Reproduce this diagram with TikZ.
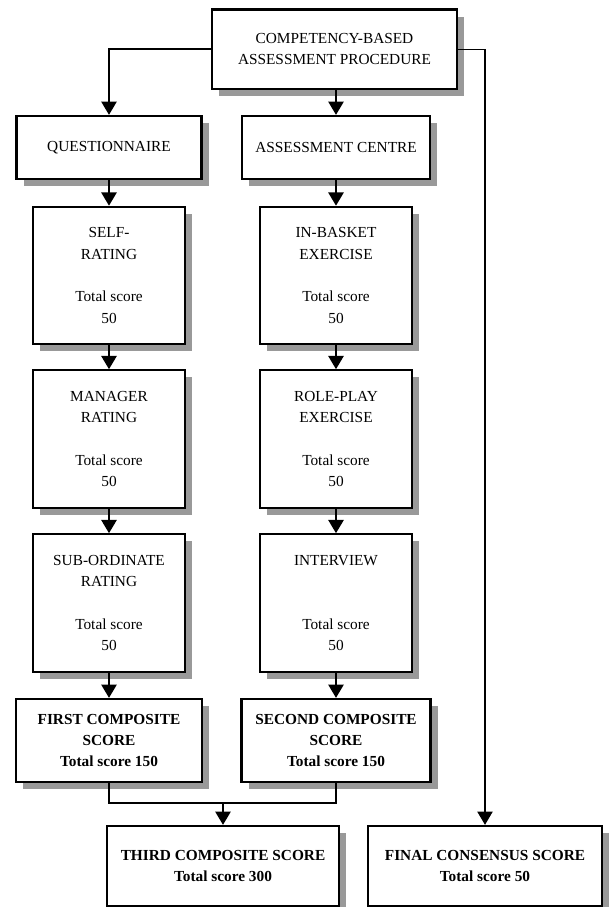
\documentclass[tikz,border=0pt]{standalone}
\usepackage{fontspec}
\setmainfont{Liberation Serif}
\usetikzlibrary{arrows.meta,shadows}

\begin{document}
\begin{tikzpicture}[x=0.75pt,y=-0.75pt,
		box/.style={draw, line width=1.7pt, fill=white, align=center, inner sep=0pt,
			drop shadow={shadow xshift=5.25pt, shadow yshift=-5.25pt, fill=black!40, opacity=1},
			font=\fontsize{11.5}{16}\selectfont},
		rating/.style={box, minimum width=114pt, minimum height=103pt},
		composite/.style={box, font=\fontsize{11.5}{16}\selectfont\bfseries},
		link/.style={line width=1.4pt},
		arrow/.style={link, -{Triangle[width=11.5pt,length=10pt]}}]
	\useasboundingbox (0,0) rectangle (611,907);

	% PROCEDURE
	\node[box, minimum width=183.75pt, minimum height=59.6pt] (proc) at (334.5,49.25) {COMPETENCY-BASED\\ASSESSMENT PROCEDURE};
	\node[box, minimum width=138.75pt, minimum height=47.25pt] (quest) at (109,147.5) {QUESTIONNAIRE};
	\node[box, minimum width=141pt, minimum height=47.25pt] (centre) at (336,147.5) {ASSESSMENT CENTRE};

	% QUESTIONNAIRE RATINGS
	\node[rating] (self) at (109,275.5) {SELF-\\RATING\\[16pt]Total score\\50};
	\node[rating] (manager) at (109,439) {MANAGER\\RATING\\[16pt]Total score\\50};
	\node[rating] (subord) at (109,603) {SUB-ORDINATE\\RATING\\[16pt]Total score\\50};

	% CENTRE EXERCISES
	\node[rating] (basket) at (336,275.5) {IN-BASKET\\EXERCISE\\[16pt]Total score\\50};
	\node[rating] (roleplay) at (336,439) {ROLE-PLAY\\EXERCISE\\[16pt]Total score\\50};
	\node[rating] (interview) at (336,603) {INTERVIEW\\[32pt]Total score\\50};

	% SCORES
	\node[composite, minimum width=139.5pt, minimum height=62.25pt] (first) at (109,740.5) {FIRST COMPOSITE\\SCORE\\Total score 150};
	\node[composite, minimum width=141.75pt, minimum height=62.25pt] (second) at (336,740.5) {SECOND COMPOSITE\\SCORE\\Total score 150};
	\node[composite, minimum width=174pt, minimum height=60pt] (third) at (223,866) {THIRD COMPOSITE SCORE\\Total score 300};
	\node[composite, minimum width=175.5pt, minimum height=60pt] (final) at (485,866) {FINAL CONSENSUS SCORE\\Total score 50};

	\draw [arrow] (proc.west) -| (quest.north);
	\draw [arrow] (proc.south -| centre.north) -- (centre.north);
	\draw [arrow, line width=1pt] (proc.east) -| (final.north);
	\foreach \a/\b in {quest/self, self/manager, manager/subord, subord/first,
		centre/basket, basket/roleplay, roleplay/interview, interview/second} {
		\draw [arrow] (\a) -- (\b);
	}
	\coordinate (join) at (223,803);
	\draw [link] (first) |- (join) -| (second);
	\draw [arrow] (join) -- (third);
\end{tikzpicture}
\end{document}
